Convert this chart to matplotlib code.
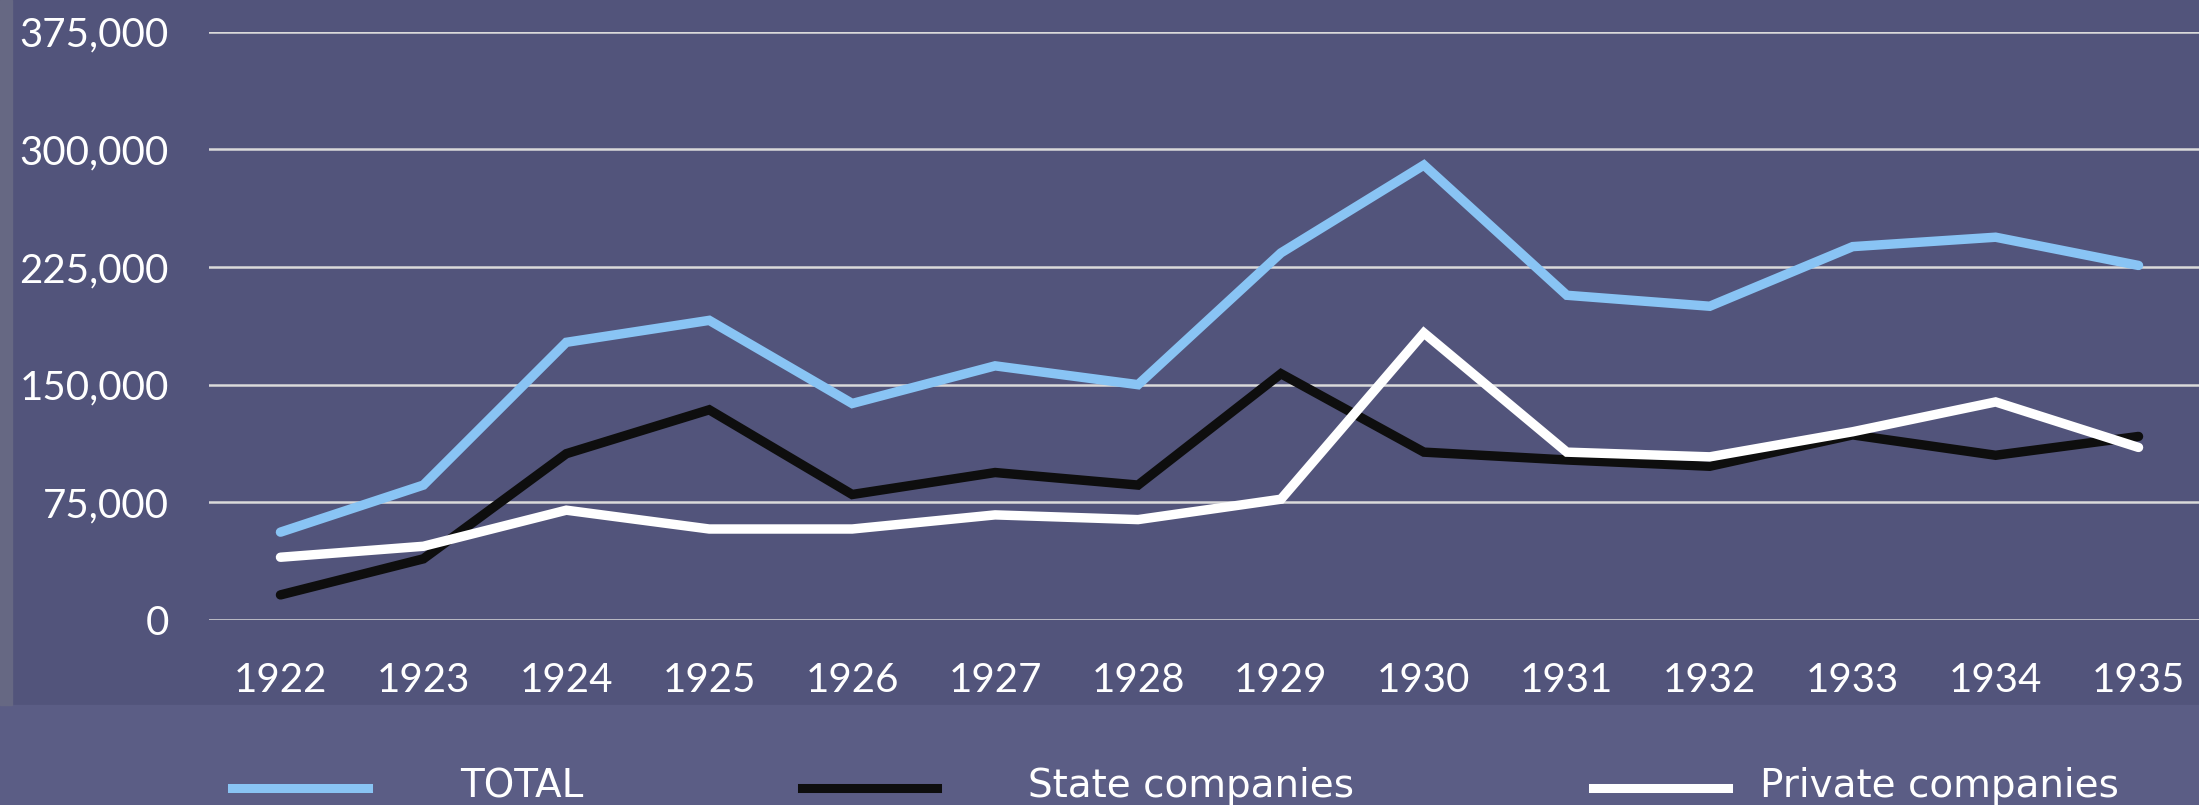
import numpy as np
import matplotlib
matplotlib.use("Agg")
import matplotlib.pyplot as plt
from matplotlib.lines import Line2D
from matplotlib.ticker import FuncFormatter

years = ["1922", "1923", "1924", "1925", "1926", "1927", "1928",
         "1929", "1930", "1931", "1932", "1933", "1934", "1935"]
total = [56000, 86000, 177000, 191000, 138000, 162000, 150000,
         234000, 290000, 207000, 200000, 238000, 244000, 226000]
state = [16000, 39000, 106000, 134000, 80000, 94000, 86000,
         157000, 107000, 102000, 98000, 118000, 105000, 117000]
private = [40000, 47000, 70000, 58000, 58000, 67000, 64000,
           77000, 183000, 107000, 104000, 120000, 139000, 110000]
y_ticks = [0, 75000, 150000, 225000, 300000, 375000]

series = [("TOTAL", total, "#89c4f4"),
          ("State companies", state, "#0e0e0e"),
          ("Private companies", private, "#ffffff")]

W, H = 2199, 805
BG = "#52547b"
plt.rcParams['font.family'] = ['Lato', 'DejaVu Sans']

fig = plt.figure(figsize=(W / 100, H / 100), dpi=100, facecolor=BG)

# background: flat main panel, lighter band at bottom, grey strip on the left
bg = fig.add_axes([0, 0, 1, 1], zorder=-10)
bg.set_xlim(0, W)
bg.set_ylim(H, 0)
bg.axis("off")
bg.add_patch(plt.Rectangle((0, 0), W, H, color=BG))
bg.add_patch(plt.Rectangle((0, 705), W, 100, color="#5b5d85"))
bg.add_patch(plt.Rectangle((0, 0), 12, 705, color="#666883"))

# plot area in pixels: x 209..2210, y 31.7..620
ax = fig.add_axes([209 / W, 1 - 620 / H, (2210 - 209) / W, (620 - 31.7) / H])
ax.patch.set_alpha(0)
x = np.arange(len(years))
for name, vals, col in series:
    ax.plot(x, vals, color=col, lw=6.8, solid_capstyle="round",
            solid_joinstyle="miter", zorder=3)

ax.set_xlim(-0.5, len(years) - 0.5)
ax.set_ylim(0, 375000)
ax.set_yticks(y_ticks)
ax.yaxis.set_major_formatter(FuncFormatter(lambda v, p: f"{int(v):,}"))
ax.set_xticks(x)
ax.set_xticklabels(years)
ax.grid(axis="y", color="#dadada", lw=1.8, zorder=1)
ax.set_axisbelow(True)
for s in ax.spines.values():
    s.set_visible(False)
ax.tick_params(axis="y", length=0, pad=29, labelsize=29, labelcolor="white")
ax.tick_params(axis="x", length=0, pad=30, labelsize=29, labelcolor="white")

# legend drawn along the bottom edge
handle_x = [(232, 368), (802, 937), (1593, 1728)]
text_x = [460, 1028, 1760]
for (name, vals, col), (x0, x1), tx in zip(series, handle_x, text_x):
    fig.add_artist(Line2D([x0 / W, x1 / W], [1 - 788 / H] * 2,
                          color=col, lw=6.5, transform=fig.transFigure))
    fig.text(tx / W, 1 - 797 / H, name, color="white", fontsize=28,
             family="DejaVu Sans", va="baseline", ha="left")

fig.savefig("out.png", dpi=100, facecolor=BG)
